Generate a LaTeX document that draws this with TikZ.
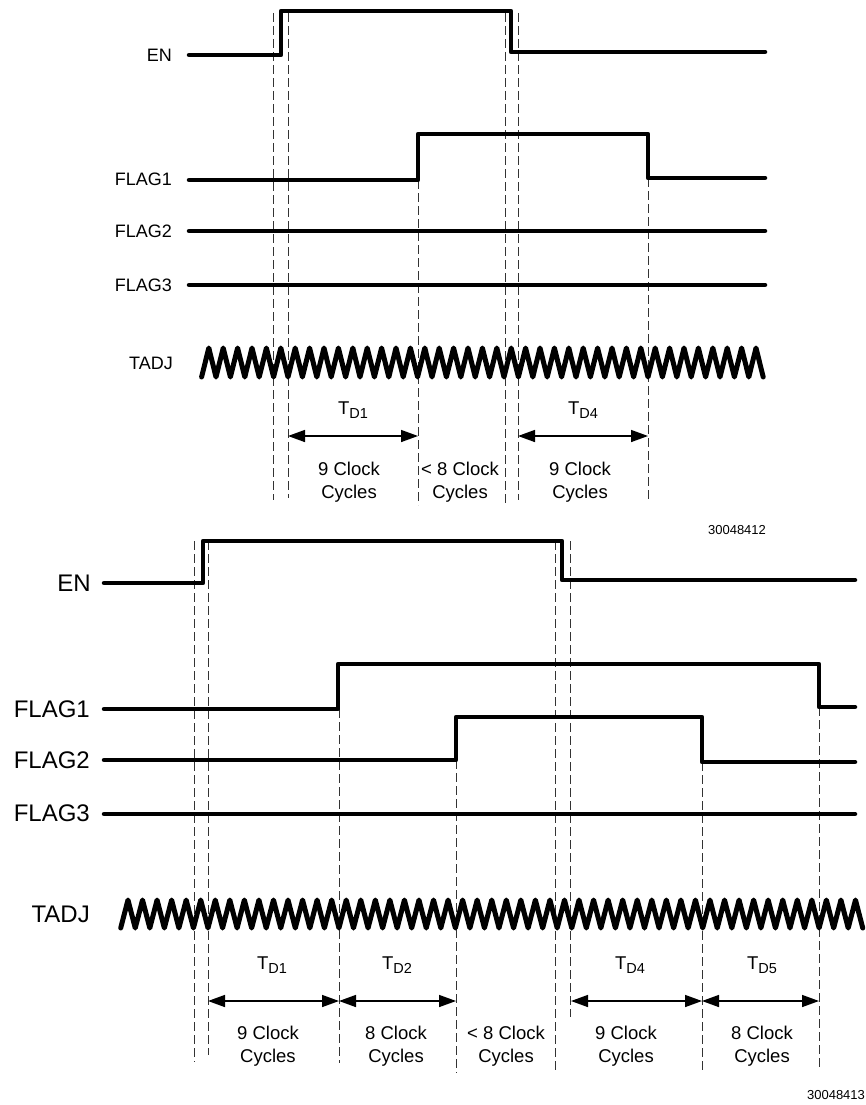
\documentclass[tikz,border=0pt]{standalone}
\usepackage{fontspec}
\setmainfont{Liberation Sans}
\usepackage{tikz}
\usetikzlibrary{arrows.meta}
\tikzstyle{sig}=[line width=4.5pt, line cap=round, line join=round]
\tikzstyle{clk}=[line width=5pt, line cap=round, line join=round]
\tikzstyle{guide}=[line width=1pt, draw=black!80, dash pattern=on 9pt off 4pt]
\tikzstyle{dim}=[line width=1.5pt, {Triangle[length=17pt,width=12pt]}-{Triangle[length=17pt,width=12pt]}]
\tikzstyle{nameA}=[anchor=east, inner sep=0pt, font=\fontsize{18}{20}\selectfont]
\tikzstyle{nameB}=[anchor=east, inner sep=0pt, font=\fontsize{24}{26}\selectfont]
\tikzstyle{cyc}=[align=center, inner sep=0pt, font=\fontsize{18.5}{22.5}\selectfont]
\tikzstyle{figno}=[inner sep=0pt, font=\fontsize{13}{15}\selectfont]
\newcommand{\tdsub}[1]{T\raisebox{-0.4ex}{\fontsize{14.5}{15}\selectfont #1}}

\begin{document}
\begin{tikzpicture}[x=1pt, y=-1pt]
\useasboundingbox (0,0) rectangle (865,1105);

% upper diagram
\draw (172, 55) node [nameA] (en1) {EN};
\draw (172, 179) node [nameA] (fa1) {FLAG1};
\draw (172, 231) node [nameA] (fb1) {FLAG2};
\draw (172, 285) node [nameA] (fc1) {FLAG3};
\draw (173, 363) node [nameA] (tadj1) {TADJ};

\draw[guide] (273, 13) -- (273, 500);
\draw[guide] (288, 13) -- (288, 498);
\draw[guide] (418, 180) -- (418, 505);
\draw[guide] (505, 13) -- (505, 505);
\draw[guide] (518, 13) -- (518, 500);
\draw[guide] (648, 178) -- (648, 502);

\draw[sig] (189, 55) -- (281, 55) -- (281, 11) -- (511, 11) -- (511, 52) -- (765, 52);
\draw[sig] (189, 180) -- (418, 180) -- (418, 134) -- (648, 134) -- (648, 178) -- (765, 178);
\draw[sig] (189, 231) -- (765, 231);
\draw[sig] (189, 285) -- (765, 285);
\draw[clk] (201.6, 377) \foreach \k in {1,...,39} { -- ++(7.2, -29) -- ++(7.2, 29) };

\coordinate (u1a) at (288, 436);
\coordinate (u1b) at (418, 436);
\coordinate (u4a) at (518, 436);
\coordinate (u4b) at (648, 436);
\draw[dim] (u1a) -- (u1b);
\draw[dim] (u4a) -- (u4b);

\draw (353, 410) node [cyc] (ut1) {\tdsub{D1}};
\draw (583, 410) node [cyc] (ut4) {\tdsub{D4}};
\draw (349, 482) node [cyc] (uc1) {9 Clock\\Cycles};
\draw (460, 482) node [cyc] (uc2) {< 8 Clock\\Cycles};
\draw (580, 482) node [cyc] (uc3) {9 Clock\\Cycles};
\draw (737, 530) node [figno] (fig1) {30048412};

% lower diagram
\draw (91, 583) node [nameB] (en2) {EN};
\draw (90, 709) node [nameB] (fa2) {FLAG1};
\draw (90, 760) node [nameB] (fb2) {FLAG2};
\draw (90, 813) node [nameB] (fc2) {FLAG3};
\draw (90, 914) node [nameB] (tadj2) {TADJ};

\draw[guide] (194, 541) -- (194, 1062);
\draw[guide] (208, 541) -- (208, 1055);
\draw[guide] (339, 709) -- (339, 1063);
\draw[guide] (456, 760) -- (456, 1073);
\draw[guide] (555, 541) -- (555, 1072);
\draw[guide] (570, 541) -- (570, 1017);
\draw[guide] (702, 762) -- (702, 1073);
\draw[guide] (819, 707) -- (819, 1067);

\draw[sig] (104, 583) -- (203, 583) -- (203, 541) -- (562, 541) -- (562, 580) -- (855, 580);
\draw[sig] (104, 709) -- (338, 709) -- (338, 664) -- (819, 664) -- (819, 707) -- (855, 707);
\draw[sig] (104, 760) -- (456, 760) -- (456, 717) -- (702, 717) -- (702, 762) -- (855, 762);
\draw[sig] (104, 814) -- (855, 814);
\draw[clk] (120.7, 928) \foreach \k in {1,...,51} { -- ++(7.275, -28) -- ++(7.275, 28) };

\coordinate (l1a) at (208, 1001);
\coordinate (l1b) at (339, 1001);
\coordinate (l2b) at (456, 1001);
\coordinate (l4a) at (571, 1001);
\coordinate (l4b) at (702, 1001);
\coordinate (l5b) at (819, 1001);
\draw[dim] (l1a) -- (l1b);
\draw[dim] (l1b) -- (l2b);
\draw[dim] (l4a) -- (l4b);
\draw[dim] (l4b) -- (l5b);

\draw (272, 965) node [cyc] (lt1) {\tdsub{D1}};
\draw (397, 965) node [cyc] (lt2) {\tdsub{D2}};
\draw (630, 965) node [cyc] (lt4) {\tdsub{D4}};
\draw (762, 965) node [cyc] (lt5) {\tdsub{D5}};
\draw (268, 1046) node [cyc] (lc1) {9 Clock\\Cycles};
\draw (396, 1046) node [cyc] (lc2) {8 Clock\\Cycles};
\draw (506, 1046) node [cyc] (lc3) {< 8 Clock\\Cycles};
\draw (626, 1046) node [cyc] (lc4) {9 Clock\\Cycles};
\draw (762, 1046) node [cyc] (lc5) {8 Clock\\Cycles};
\draw (836, 1095) node [figno] (fig2) {30048413};
\end{tikzpicture}
\end{document}
